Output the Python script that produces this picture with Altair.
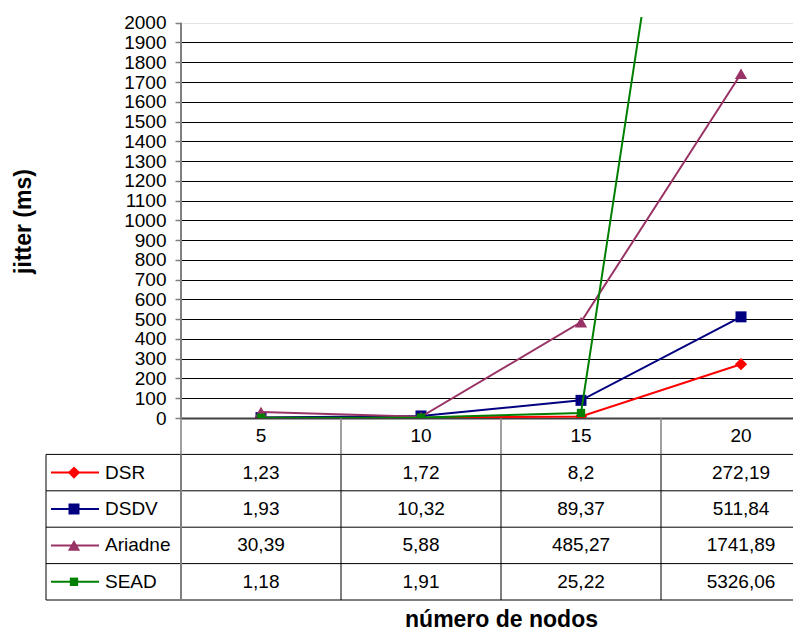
import altair as alt
import pandas as pd

# ---- data ----
categories = ["5", "10", "15", "20"]
series = ["DSR", "DSDV", "Ariadne", "SEAD"]
dsr = [1.23, 1.72, 8.2, 272.19]
dsdv = [1.93, 10.32, 89.37, 511.84]
ariadne = [30.39, 5.88, 485.27, 1741.89]
sead = [1.18, 1.91, 25.22, 5326.06]
y_ticks = list(range(0, 2001, 100))

values = [dsr, dsdv, ariadne, sead]

# ---- styles ----
colors = ["#FF0000", "#000080", "#993366", "#008000"]
shapes = ["diamond", "square", "triangle-up", "square"]
sizes = [150, 121, 150, 70]
FONT = "Liberation Sans"

# ---- layout constants ----
FULL_W = 640          # width of the 4 category bands (part is cut off at the right)
PLOT_W, PLOT_H = 612, 401
Y_MAX = 2029
TABLE_TOP, TABLE_BOTTOM = 401, 583      # local pixel range of table rows
LEGEND_COL_PX = 135
BAND_PX = FULL_W / len(categories)
legend_left = 0.5 - LEGEND_COL_PX / BAND_PX

XS = alt.Scale(domain=[0.5, len(categories) + 0.5], range=[0, FULL_W], nice=False, zero=False)
YS = alt.Scale(domain=[0, Y_MAX], nice=False)
TS = alt.Scale(domain=[0, len(series) + 1], range=[TABLE_TOP, TABLE_BOTTOM], nice=False, zero=False)

rows = []
for si, s in enumerate(series):
    for ci, c in enumerate(categories):
        v = values[si][ci]
        rows.append({"series": s, "idx": ci + 1, "cat": c, "value": v,
                     "label": str(v).replace(".", ","), "row": si + 1.5})
df = pd.DataFrame(rows)

layers = []

# axis-carrying invisible layer
axis_layer = alt.Chart(pd.DataFrame({"idx": [1], "value": [0]})).mark_point(opacity=0).encode(
    x=alt.X("idx:Q", scale=XS, axis=alt.Axis(
        labels=False, ticks=False, grid=False, domain=True, domainColor="#404040", domainWidth=2,
        title="número de nodos", titleFont=FONT, titleFontSize=23, titleFontWeight="bold",
        titleColor="#000", titleX=320, titleY=201, titleBaseline="middle", titleAnchor="middle",
        titleAlign="center")),
    y=alt.Y("value:Q", scale=YS, axis=alt.Axis(
        values=y_ticks, format="d", labelFont=FONT, labelFontSize=19, labelColor="#000", labelPadding=9,
        tickSize=6, tickColor="#808080", tickWidth=1.5, domain=False,
        grid=True, gridColor={"condition": {"test": "datum.value >= 2000", "value": "#e4e4e4"}, "value": "#000"},
        gridWidth=1,
        title="jitter (ms)", titleFont=FONT, titleFontSize=23, titleFontWeight="bold",
        titleColor="#000", titleX=-158, titleY=204, titleBaseline="middle", titleAngle=270)),
)
layers.append(axis_layer)

# y axis line (0..2000)
yline = alt.Chart(pd.DataFrame({"bx": [0.5], "y0": [0], "y1": [y_ticks[-1]]})).mark_rule(
    color="#808080", strokeWidth=2).encode(
    x=alt.X("bx:Q", scale=XS, axis=None),
    y=alt.Y("y0:Q", scale=YS, axis=None), y2="y1:Q")
layers.append(yline)

# table grid: horizontal lines
hl = pd.DataFrame({"r": [1, 2, 3, 4, 5], "x0": [legend_left] * 5, "x1": [len(categories) + 0.5] * 5})
layers.append(alt.Chart(hl).mark_rule(color="#000", strokeWidth=1).encode(
    x=alt.X("x0:Q", scale=XS, axis=None), x2="x1:Q",
    y=alt.Y("r:Q", scale=TS, axis=None)))

# vertical lines in header row (gray, axis ticks)
vh = pd.DataFrame({"bx": [i + 0.5 for i in range(len(categories))], "r0": [0] * 4, "r1": [1] * 4})
layers.append(alt.Chart(vh).mark_rule(color="#808080", strokeWidth=1.5).encode(
    x=alt.X("bx:Q", scale=XS, axis=None),
    y=alt.Y("r0:Q", scale=TS, axis=None), y2="r1:Q"))
# vertical lines in body rows
vb = pd.DataFrame({"bx": [legend_left] + [i + 1.5 for i in range(len(categories) - 1)],
                   "r0": [1] * 4, "r1": [5] * 4})
layers.append(alt.Chart(vb).mark_rule(color="#000", strokeWidth=1).encode(
    x=alt.X("bx:Q", scale=XS, axis=None),
    y=alt.Y("r0:Q", scale=TS, axis=None), y2="r1:Q"))
vg = pd.DataFrame({"bx": [0.5], "r0": [1], "r1": [5]})
layers.append(alt.Chart(vg).mark_rule(color="#808080", strokeWidth=2).encode(
    x=alt.X("bx:Q", scale=XS, axis=None),
    y=alt.Y("r0:Q", scale=TS, axis=None), y2="r1:Q"))

# header row text
hdr = pd.DataFrame({"idx": list(range(1, len(categories) + 1)), "cat": categories, "r": [0.5] * 4})
layers.append(alt.Chart(hdr).mark_text(font=FONT, fontSize=19, color="#000", baseline="middle", align="center").encode(
    x=alt.X("idx:Q", scale=XS, axis=None), y=alt.Y("r:Q", scale=TS, axis=None), text="cat:N"))

# table values
layers.append(alt.Chart(df).mark_text(font=FONT, fontSize=19, color="#000", baseline="middle", align="center").encode(
    x=alt.X("idx:Q", scale=XS, axis=None), y=alt.Y("row:Q", scale=TS, axis=None), text="label:N"))

# series lines / markers and legend keys
for si, s in enumerate(series):
    d = df[df.series == s]
    layers.append(alt.Chart(d).mark_line(color=colors[si], strokeWidth=2, clip=True).encode(
        x=alt.X("idx:Q", scale=XS, axis=None), y=alt.Y("value:Q", scale=YS, axis=None)))
    layers.append(alt.Chart(d).mark_point(shape=shapes[si], size=sizes[si], filled=True, opacity=1,
                                          color=colors[si], clip=True).encode(
        x=alt.X("idx:Q", scale=XS, axis=None), y=alt.Y("value:Q", scale=YS, axis=None)))
    key = pd.DataFrame({"series": [s], "row": [si + 1.5]})
    layers.append(alt.Chart(key).mark_rule(color=colors[si], strokeWidth=2).encode(
        x=alt.value(-130), x2=alt.value(-82), y=alt.Y("row:Q", scale=TS, axis=None)))
    layers.append(alt.Chart(key).mark_point(shape=shapes[si], size=sizes[si], filled=True, opacity=1,
                                            color=colors[si]).encode(
        x=alt.value(-107), y=alt.Y("row:Q", scale=TS, axis=None)))
    layers.append(alt.Chart(key).mark_text(font=FONT, fontSize=19, color="#000", align="left",
                                           baseline="middle").encode(
        x=alt.value(-76), y=alt.Y("row:Q", scale=TS, axis=None), text="series:N"))

chart = alt.layer(*layers).resolve_scale(x="independent", y="independent").properties(
    width=PLOT_W, height=PLOT_H,
    autosize=alt.AutoSizeParams(type="none"),
    padding={"left": 173, "top": 9, "right": 0, "bottom": 212},
    background="white",
).configure_view(stroke=None)

chart.save("out.html", embed_options={"renderer": "svg", "actions": False})
